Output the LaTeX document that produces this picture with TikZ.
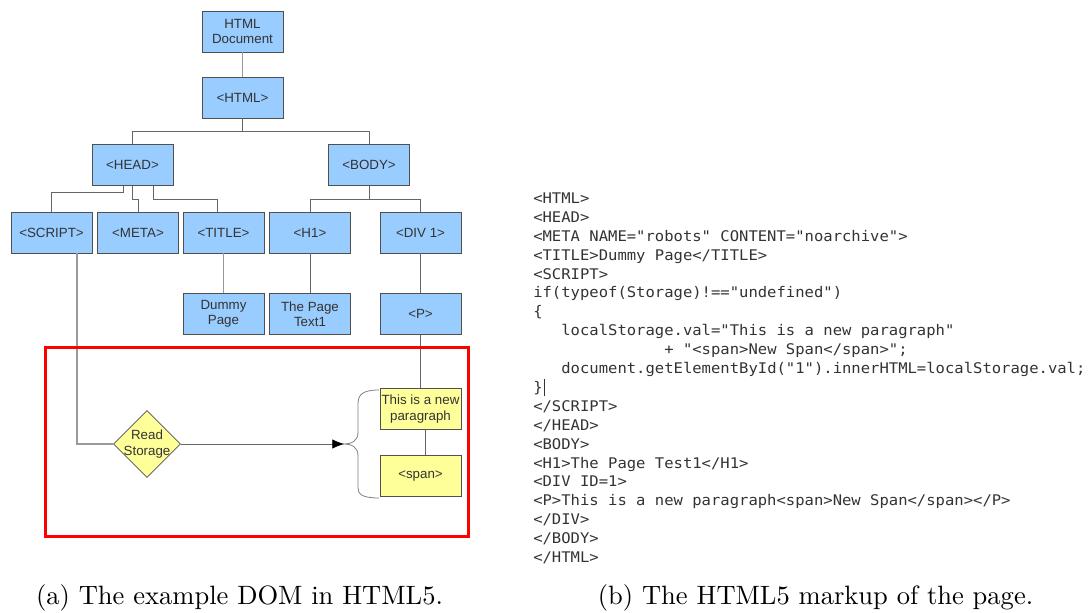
\documentclass[tikz,border=0pt]{standalone}
\usepackage{fontspec}
\setmainfont{Liberation Sans}
\newfontfamily\codefont[FakeStretch=1.06]{DejaVu Sans Mono}
\newfontfamily\capfont{lmroman10-regular}[Extension=.otf]
\usetikzlibrary{shapes.geometric,arrows.meta,calc}
\definecolor{boxblue}{HTML}{99CCFF}
\definecolor{boxyellow}{HTML}{FFFF99}
\definecolor{boxedge}{HTML}{505050}
\definecolor{txtgray}{HTML}{333333}
\definecolor{linegray}{HTML}{666666}
\definecolor{lightline}{HTML}{999999}
\tikzset{
  domnode/.style={rectangle, draw=boxedge, line width=0.6pt, fill=boxblue,
    minimum width=60.75pt, minimum height=30.75pt, inner sep=0pt, align=center,
    text=txtgray, font=\fontsize{10}{11.5}\selectfont},
  newnode/.style={domnode, fill=boxyellow},
  decide/.style={diamond, draw=boxedge, line width=0.6pt, fill=boxyellow,
    minimum width=50.25pt, minimum height=50.25pt, inner sep=0pt},
  difftext/.style={align=center, text=txtgray, inner sep=0pt, font=\fontsize{10}{11.5}\selectfont},
  conn/.style={draw=linegray, line width=0.6pt},
  lconn/.style={draw=lightline, line width=0.8pt},
  hilite/.style={draw=red, line width=2.25pt},
  caption/.style={font=\capfont\fontsize{19.9}{24}\selectfont, inner sep=0pt},
}
\begin{document}
\begin{tikzpicture}[x=0.75pt,y=-0.75pt]
\useasboundingbox (0,0) rectangle (1089,613);
% DOM tree
\node[domnode] (doc)   at (242.5,31.5) {HTML\\Document};
\node[domnode] (html)  at (242.5,97.5) {<HTML>};
\node[domnode] (head)  at (132.5,165) {<HEAD>};
\node[domnode] (body)  at (369,165) {<BODY>};
\node[domnode] (script) at (51.5,232.5) {<SCRIPT>};
\node[domnode] (meta)  at (138,232.5) {<META>};
\node[domnode] (title) at (223.5,232.5) {<TITLE>};
\node[domnode] (h1)    at (310,232.5) {<H1>};
\node[domnode] (div)   at (420.5,232.5) {<DIV 1>};
\node[domnode] (dummy) at (223.5,314) {Dummy\\Page};
\node[domnode] (text1) at (310,314) {The Page\\Text1};
\node[domnode] (p)     at (420.5,314) {<P>};
\node[newnode] (para)  at (420.5,409) {This is a new\\paragraph};
\node[newnode] (span)  at (420.5,476) {<span>};
\node[decide] (rs) at (147,444) {};
\node[difftext] (rstext) at (rs.center) {Read\\Storage};
% connectors
\draw[lconn] (doc.south) -- (html.north);
\draw[conn] (html.south) -- ++(0,13) -| (head.north);
\draw[conn] (html.south) ++(0,13) -| (body.north);
\draw[conn] ($(head.south)+(-9.5,0)$) -- ++(0,7) -| (script.north);
\draw[conn] (head.south) -- ++(0,14) -| (meta.north);
\draw[conn] ($(head.south)+(20.5,0)$) -- ++(0,14) -| ($(title.north)+(-6,0)$);
\draw[conn] (body.south) -- ++(0,14) -| (h1.north);
\draw[conn] (body.south) ++(0,14) -| (div.north);
\draw[lconn] (title.south) -- (dummy.north);
\draw[conn] (h1.south) -- (text1.north);
\draw[conn] (div.south) -- (p.north);
\draw[conn] (p.south) -- (para.north);
\draw[conn] ($(para.south)+(5,0)$) -- ($(span.north)+(5,0)$);
\draw[lconn] ($(script.south)+(25.5,0)$) |- (rs.west);
% brace
\coordinate (btop) at (379,390);
\coordinate (btip) at (343,444);
\coordinate (bbot) at (379,498);
\draw[conn, draw=gray] (btop) .. controls (362,390) and (358,395) .. (358,404) -- (358,432)
   .. controls (358,441) and (352,444) .. (btip)
   .. controls (352,444) and (358,447) .. (358,456) -- (358,488)
   .. controls (358,494) and (362,498) .. (bbot);
\draw[conn, -{Latex[length=9pt,width=7pt,color=black]}, shorten >=-1pt] (rs.east) -- (btip);
% highlight
\draw[hilite] (45,347) rectangle (468,536);
% code
\node[anchor=north west, align=left, inner sep=0pt, text=txtgray,
  font=\codefont\fontsize{11}{14.175}\selectfont] (code) at (533,192.5) {%
<HTML>\\
<HEAD>\\
<META NAME="robots" CONTENT="noarchive">\\
<TITLE>Dummy Page</TITLE>\\
<SCRIPT>\\
if(typeof(Storage)!=="undefined")\\
\{\\
~~~localStorage.val="This is a new paragraph"\\
~~~~~~~~~~~~~~+ "<span>New Span</span>";\\
~~~document.getElementById("1").innerHTML=localStorage.val;\\
\}\kern1pt\rule[-3pt]{0.5pt}{13pt}\\
</SCRIPT>\\
</HEAD>\\
<BODY>\\
<H1>The Page Test1</H1>\\
<DIV ID=1>\\
<P>This is a new paragraph<span>New Span</span></P>\\
</DIV>\\
</BODY>\\
</HTML>};
% captions
\node[caption] (capa) at (239.5,598) {(a) The example DOM in HTML5.};
\node[caption] (capb) at (815.5,598) {(b) The HTML5 markup of the page.};
\end{tikzpicture}
\end{document}
